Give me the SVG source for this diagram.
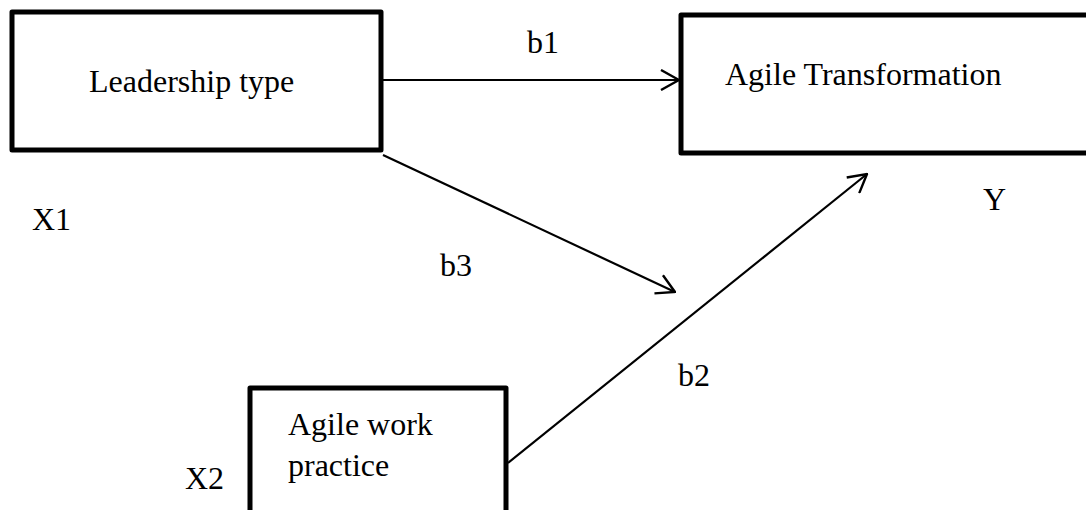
<svg xmlns="http://www.w3.org/2000/svg" width="1086" height="510" viewBox="0 0 1086 510">
  <defs>
    <style>
      .box { fill: #fff; stroke: #000; stroke-width: 5; stroke-linejoin: round; }
      .link { fill: none; stroke: #000; stroke-width: 2.2; }
      text { font-family: "Liberation Serif", "Times New Roman", serif; font-size: 32px; fill: #000; }
    </style>
    <marker id="arrow" viewBox="0 0 20 22" refX="19" refY="11" markerWidth="20" markerHeight="22" markerUnits="userSpaceOnUse" orient="auto">
      <path d="M1,1 L19,11 L1,21" fill="none" stroke="#000" stroke-width="2.4" stroke-linejoin="miter"/>
    </marker>
  </defs>
  <rect width="1086" height="510" fill="#fff"/>

  <!-- connectors -->
  <g id="connectors">
    <line class="link" x1="383" y1="80" x2="679" y2="80" marker-end="url(#arrow)"/>
    <line class="link" x1="383" y1="155" x2="675" y2="292" marker-end="url(#arrow)"/>
    <line class="link" x1="508" y1="463" x2="867" y2="174" marker-end="url(#arrow)"/>
    <text x="527" y="53">b1</text>
    <text x="440" y="276">b3</text>
    <text x="678" y="386">b2</text>
  </g>

  <!-- Leadership type (X1) -->
  <g id="node-leadership">
    <rect class="box" x="12" y="12" width="369" height="138"/>
    <text x="89" y="92">Leadership type</text>
    <text x="32" y="230">X1</text>
  </g>

  <!-- Agile Transformation (Y) -->
  <g id="node-transformation">
    <rect class="box" x="681" y="15" width="420" height="138"/>
    <text x="725" y="85">Agile Transformation</text>
    <text x="983" y="210">Y</text>
  </g>

  <!-- Agile work practice (X2) -->
  <g id="node-practice">
    <rect class="box" x="250" y="388" width="256" height="130"/>
    <text x="288" y="435">Agile work</text>
    <text x="288" y="476">practice</text>
    <text x="185" y="489">X2</text>
  </g>
</svg>
